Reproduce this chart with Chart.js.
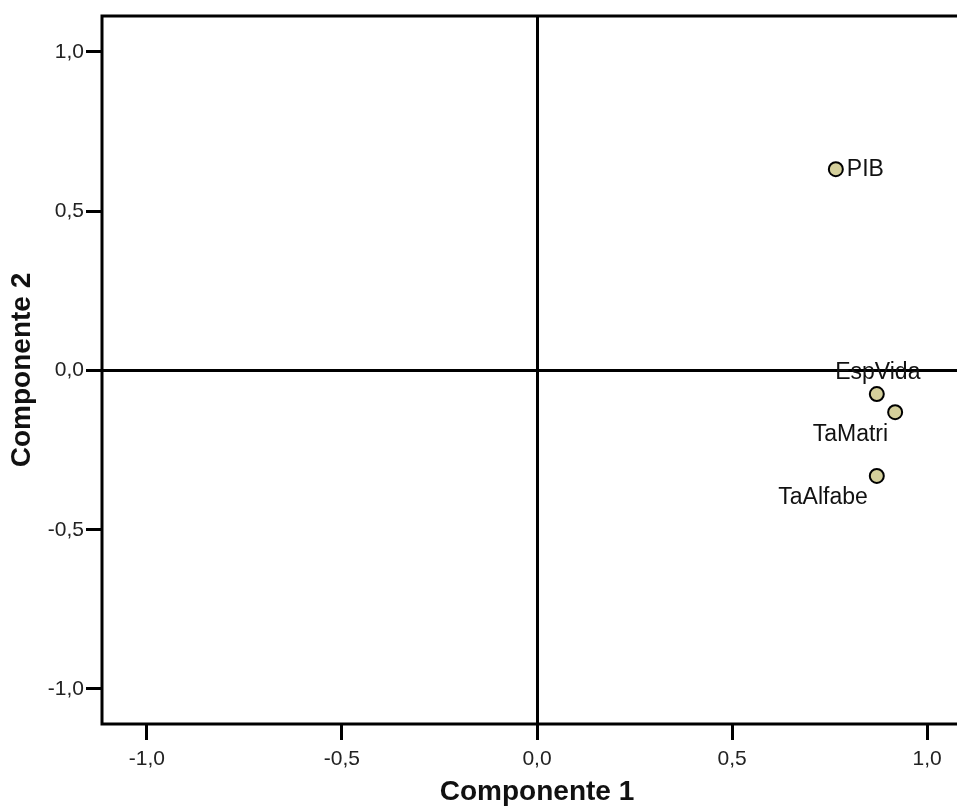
<!DOCTYPE html>
<html>
<head>
<meta charset="utf-8">
<script src="https://cdn.jsdelivr.net/npm/chart.js@4/dist/chart.umd.min.js"></script>
<style>
  html, body { margin: 0; padding: 0; background: #fff; overflow: hidden; }
  #wrap { position: absolute; left: 0; top: 0; width: 990px; height: 807px; }
</style>
</head>
<body>
<div id="wrap"><canvas id="c"></canvas></div>
<script>
// Component loadings (Componente 1, Componente 2) for each variable
const variables = ['PIB', 'EspVida', 'TaMatri', 'TaAlfabe'];
const componente1 = [0.766, 0.871, 0.918, 0.871];
const componente2 = [0.632, -0.074, -0.131, -0.331];
const tickValues = [-1.0, -0.5, 0.0, 0.5, 1.0];

// Where each variable name sits relative to its marker
const labelPlacement = {
  PIB:      { dx: 11, dy: 0,   align: 'left' },
  EspVida:  { dx: 1,  dy: -21, align: 'center' },
  TaMatri:  { dx: -7, dy: 22,  align: 'right' },
  TaAlfabe: { dx: -9, dy: 22,  align: 'right' }
};

const FONT = '"Liberation Sans", Arial, Helvetica, sans-serif';
const fmt = v => v.toFixed(1).replace('.', ',');

// Black frame around the plotting area
const framePlugin = {
  id: 'frame',
  beforeDatasetsDraw(chart) {
    const { ctx, chartArea: a } = chart;
    ctx.save();
    ctx.strokeStyle = '#000';
    ctx.lineWidth = 3;
    ctx.strokeRect(a.left, a.top, a.right - a.left, a.bottom - a.top);
    ctx.restore();
  }
};

// Variable names next to the markers
const pointLabels = {
  id: 'pointLabels',
  afterDatasetsDraw(chart) {
    const { ctx } = chart;
    const meta = chart.getDatasetMeta(0);
    ctx.save();
    ctx.font = '23px ' + FONT;
    ctx.fillStyle = '#111';
    ctx.textBaseline = 'middle';
    meta.data.forEach((el, i) => {
      const name = variables[i];
      const p = labelPlacement[name];
      ctx.textAlign = p.align;
      ctx.fillText(name, el.x + p.dx, el.y + p.dy);
    });
    ctx.restore();
  }
};

const zeroLine = c => (c.tick && c.tick.value === 0) ? '#000' : 'rgba(0,0,0,0)';

new Chart(document.getElementById('c'), {
  type: 'scatter',
  data: {
    datasets: [{
      data: variables.map((v, i) => ({ x: componente1[i], y: componente2[i] })),
      backgroundColor: '#d4cf9b',
      borderColor: '#000',
      borderWidth: 2,
      pointRadius: 7,
      pointHoverRadius: 7
    }]
  },
  options: {
    responsive: true,
    maintainAspectRatio: false,
    animation: false,
    events: [],
    layout: { padding: { left: 0, top: 16, right: 18, bottom: 0 } },
    plugins: { legend: { display: false }, tooltip: { enabled: false } },
    scales: {
      x: {
        type: 'linear',
        min: -1.115,
        max: 1.115,
        afterBuildTicks: s => { s.ticks = tickValues.map(v => ({ value: v })); },
        afterFit: s => { s.height = 83; },
        border: { display: false },
        grid: {
          color: zeroLine,
          lineWidth: 3,
          drawTicks: true,
          tickLength: 16,
          tickWidth: 3,
          tickColor: '#000'
        },
        ticks: {
          callback: v => fmt(v),
          font: { family: FONT, size: 21 },
          color: '#222',
          padding: 7,
          maxRotation: 0
        },
        title: {
          display: true,
          text: 'Componente 1',
          font: { family: FONT, size: 28, weight: 'bold', lineHeight: 1 },
          color: '#111',
          padding: { top: 0, bottom: 1 }
        }
      },
      y: {
        type: 'linear',
        min: -1.11,
        max: 1.113,
        afterBuildTicks: s => { s.ticks = tickValues.map(v => ({ value: v })); },
        afterFit: s => { s.width = 102; },
        border: { display: false },
        grid: {
          color: zeroLine,
          lineWidth: 3,
          drawTicks: true,
          tickLength: 16,
          tickWidth: 3,
          tickColor: '#000'
        },
        ticks: {
          callback: v => fmt(v),
          font: { family: FONT, size: 21 },
          color: '#222',
          padding: 2
        },
        title: {
          display: true,
          text: 'Componente 2',
          font: { family: FONT, size: 28, weight: 'bold', lineHeight: 1 },
          color: '#111',
          padding: { top: 8, bottom: 0 }
        }
      }
    }
  },
  plugins: [framePlugin, pointLabels]
});
</script>
</body>
</html>
